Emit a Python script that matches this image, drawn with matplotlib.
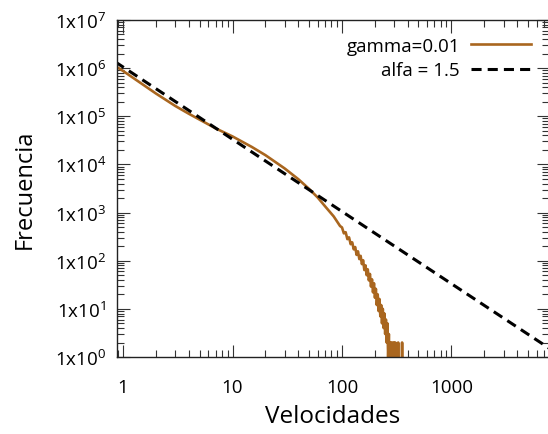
import numpy as np
import matplotlib
matplotlib.use("Agg")
import matplotlib.pyplot as plt
from matplotlib.ticker import LogLocator, FixedLocator, NullFormatter

plt.rcParams['font.family'] = ['Open Sans', 'DejaVu Sans']
plt.rcParams['mathtext.default'] = 'regular'

# brown curve (gamma=0.01): smooth head
vel_head = [0.85, 1, 2, 3, 4, 5, 7, 10, 15, 20, 30, 40, 50, 60, 70, 84, 96]
freq_head = [1.1e6, 8.7e5, 2.95e5, 1.63e5, 1.12e5, 8.5e4, 5.6e4, 3.8e4, 2.3e4,
             1.55e4, 8.2e3, 4.9e3, 3.1e3, 2.05e3, 1.35e3, 830, 525]

# noisy tail
vel_tail = [100, 104, 108, 112, 116, 120, 124, 128, 132, 136, 140, 144, 148,
            152, 156, 160, 164, 168, 172, 176, 180, 184, 188, 192, 196, 200,
            204, 208, 212, 216, 220, 224, 228, 232, 236, 240, 244, 248, 252,
            256, 260, 264, 268, 271, 274, 277, 280, 283, 286, 289, 292, 295,
            298, 306, 307, 308, 325, 326, 327, 353, 354, 355]
freq_tail = [490, 370, 390, 280, 305, 220, 240, 172, 192, 132, 156, 108, 126,
             85, 102, 64, 80, 50, 66, 39, 53, 29, 41, 22, 34, 17,
             26, 12, 20, 9, 16, 7, 12, 5, 10, 4, 8, 3, 6,
             2, 5, 1, 3, 1, 2, 0, 2, 1, 0, 2, 1, 0,
             2, 0, 2, 0, 0, 2, 0, 0, 2, 0]

# power law reference
alfa = 1.5
amp = 1.05e6
x_fit = [0.85, 9000]

vel = vel_head + vel_tail
freq = freq_head + freq_tail

fig = plt.figure(figsize=(5.48, 4.35), dpi=100)
ax = fig.add_axes([0.2135, 0.177, 0.7885, 0.775])

brown = '#a9661f'
ax.plot(vel, freq, color=brown, lw=1.9, label='gamma=0.01')
ax.plot(x_fit, [amp * x ** (-alfa) for x in x_fit], color='black', lw=2.2,
        linestyle=(0, (3.3, 2)), label='alfa = 1.5')

ax.set_xscale('log')
ax.set_yscale('log')
ax.set_xlim(0.88, 7800)
ax.set_ylim(1, 1e7)

yt = [10 ** i for i in range(8)]
ax.yaxis.set_major_locator(FixedLocator(yt))
ax.set_yticklabels(['1x10$^{%d}$' % i for i in range(8)])
ax.xaxis.set_major_locator(FixedLocator([1, 10, 100, 1000]))
ax.set_xticklabels(['1', '10', '100', '1000'])
for a in (ax.xaxis, ax.yaxis):
    a.set_minor_locator(LogLocator(base=10, subs=np.arange(2, 10), numticks=20))
    a.set_minor_formatter(NullFormatter())

ax.tick_params(which='both', direction='in', top=True, right=True,
               labelsize=13.5, color='#333333', width=0.8)
ax.tick_params(which='major', length=9)
ax.tick_params(axis='x', which='major', pad=15)
ax.tick_params(axis='y', which='major', pad=8)
ax.tick_params(which='minor', length=5)
for s in ax.spines.values():
    s.set_linewidth(1.0)
    s.set_color('#222222')

ax.set_xlabel('Velocidades', fontsize=17.5, labelpad=6)
ax.set_ylabel('Frecuencia', fontsize=17, labelpad=13)

ax.legend(loc='upper right', frameon=False, markerfirst=False, fontsize=13.5,
          handlelength=3.2, handletextpad=0.6, labelspacing=0.35,
          bbox_to_anchor=(0.998, 1.0))

fig.savefig('out.png', dpi=100)
